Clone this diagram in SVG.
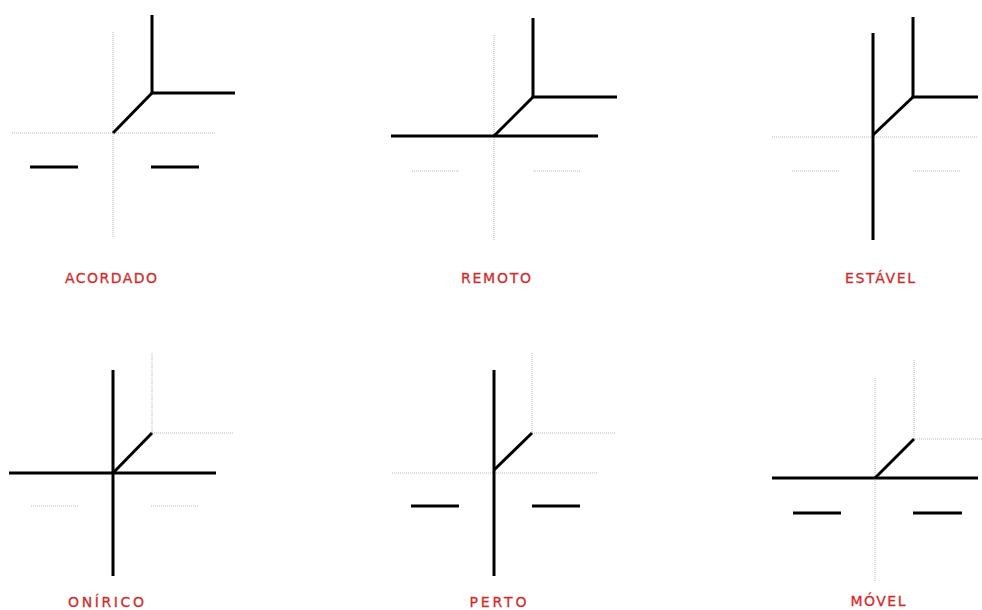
<svg xmlns="http://www.w3.org/2000/svg" width="982" height="610" viewBox="0 0 982 610">
<style>
.b{stroke:#000;stroke-width:3;fill:none;stroke-linecap:butt}
.d{stroke:#b8b8b8;stroke-width:1;fill:none;stroke-dasharray:1 1}
.t{font-family:"DejaVu Sans","Liberation Sans",sans-serif;font-size:14px;fill:#d02c2c;stroke:#d02c2c;stroke-width:0.3;text-anchor:middle}
</style>
<rect width="982" height="610" fill="#fff"/>
<g id="acordado">
  <g class="guides">
    <line class="d" x1="12" y1="133" x2="216" y2="133"/>
    <line class="d" x1="113" y1="32" x2="113" y2="237"/>
  </g>
  <g class="connectors">
    <polyline class="b" points="152,15 152,93 235,93"/>
    <line class="b" x1="152" y1="93" x2="113" y2="133"/>
    <line class="b" x1="30" y1="167" x2="78" y2="167"/>
    <line class="b" x1="151" y1="167" x2="199" y2="167"/>
  </g>
  <text class="t" x="111" y="283" textLength="92" lengthAdjust="spacing">ACORDADO</text>
</g>
<g id="remoto">
  <g class="guides">
    <line class="d" x1="494" y1="35" x2="494" y2="240"/>
    <line class="d" x1="412" y1="171" x2="460" y2="171"/>
    <line class="d" x1="533" y1="171" x2="581" y2="171"/>
  </g>
  <g class="connectors">
    <polyline class="b" points="533,18 533,97 617,97"/>
    <line class="b" x1="533" y1="97" x2="494" y2="136"/>
    <line class="b" x1="391" y1="136" x2="598" y2="136"/>
  </g>
  <text class="t" x="496" y="283" textLength="70" lengthAdjust="spacing">REMOTO</text>
</g>
<g id="estavel">
  <g class="guides">
    <line class="d" x1="772" y1="137" x2="977" y2="137"/>
    <line class="d" x1="792" y1="171" x2="839" y2="171"/>
    <line class="d" x1="913" y1="171" x2="960" y2="171"/>
  </g>
  <g class="connectors">
    <polyline class="b" points="913,17 913,97 978,97"/>
    <line class="b" x1="913" y1="97" x2="873" y2="135"/>
    <line class="b" x1="873" y1="33" x2="873" y2="240"/>
  </g>
  <text class="t" x="880" y="283" textLength="70" lengthAdjust="spacing">ESTÁVEL</text>
</g>
<g id="onirico">
  <g class="guides">
    <polyline class="d" points="152,353 152,433 234,433"/>
    <line class="d" x1="31" y1="506" x2="78" y2="506"/>
    <line class="d" x1="151" y1="506" x2="199" y2="506"/>
  </g>
  <g class="connectors">
    <line class="b" x1="113" y1="370" x2="113" y2="576"/>
    <line class="b" x1="9" y1="473" x2="216" y2="473"/>
    <line class="b" x1="113" y1="473" x2="152" y2="433"/>
  </g>
  <text class="t" x="106" y="607" textLength="76" lengthAdjust="spacing">ONÍRICO</text>
</g>
<g id="perto">
  <g class="guides">
    <polyline class="d" points="532,353 532,433 615,433"/>
    <line class="d" x1="392" y1="473" x2="597" y2="473"/>
  </g>
  <g class="connectors">
    <line class="b" x1="494" y1="370" x2="494" y2="576"/>
    <line class="b" x1="494" y1="470" x2="532" y2="433"/>
    <line class="b" x1="411" y1="506" x2="459" y2="506"/>
    <line class="b" x1="532" y1="506" x2="580" y2="506"/>
  </g>
  <text class="t" x="498" y="607" textLength="57" lengthAdjust="spacing">PERTO</text>
</g>
<g id="movel">
  <g class="guides">
    <line class="d" x1="875" y1="378" x2="875" y2="582"/>
    <polyline class="d" points="914,360 914,439 982,439"/>
  </g>
  <g class="connectors">
    <line class="b" x1="875" y1="478" x2="914" y2="439"/>
    <line class="b" x1="772" y1="478" x2="978" y2="478"/>
    <line class="b" x1="793" y1="513" x2="841" y2="513"/>
    <line class="b" x1="913" y1="513" x2="962" y2="513"/>
  </g>
  <text class="t" x="878" y="606" textLength="55" lengthAdjust="spacing">MÓVEL</text>
</g>
</svg>
